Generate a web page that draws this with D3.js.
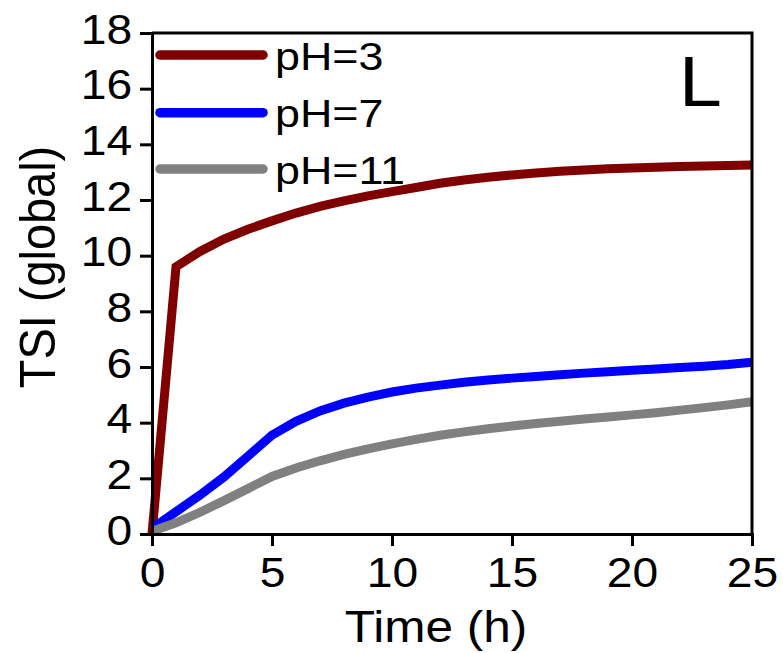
<!DOCTYPE html>
<html>
<head>
<meta charset="utf-8">
<script src="https://cdn.jsdelivr.net/npm/d3@7"></script>
<style>
  html, body { margin: 0; padding: 0; background: #ffffff; }
  svg { display: block; font-family: "Liberation Sans", Arial, sans-serif; }
</style>
</head>
<body>
<svg id="chart" width="783" height="653"></svg>
<script>
// Time points (h)
const hours = [0, 1, 2, 3, 4, 5, 6, 7, 8, 9, 10, 11, 12, 13, 14, 15, 16, 17, 18, 19, 20, 21, 22, 23, 24, 25];

// TSI (global) for each pH
const tsiPH3  = [0, 9.6, 10.15, 10.6, 10.95, 11.25, 11.53, 11.77, 11.97, 12.15, 12.3, 12.45, 12.6, 12.72, 12.82, 12.9, 12.97, 13.03, 13.08, 13.12, 13.15, 13.18, 13.2, 13.22, 13.24, 13.26];
const tsiPH7  = [0.2, 0.8, 1.4, 2.05, 2.8, 3.55, 4.05, 4.42, 4.7, 4.92, 5.1, 5.24, 5.35, 5.45, 5.53, 5.6, 5.66, 5.72, 5.78, 5.83, 5.88, 5.93, 5.98, 6.03, 6.09, 6.17];
const tsiPH11 = [0.1, 0.4, 0.78, 1.2, 1.63, 2.07, 2.37, 2.63, 2.86, 3.06, 3.24, 3.4, 3.55, 3.67, 3.78, 3.88, 3.97, 4.05, 4.13, 4.2, 4.28, 4.36, 4.45, 4.54, 4.64, 4.75];

const seriesNames  = ["pH=3", "pH=7", "pH=11"];
const seriesColors = ["#800000", "#0000ff", "#808080"];

const xMajorTicks = [0, 5, 10, 15, 20, 25];
const xMinorTicks = [2.5, 7.5, 12.5, 17.5, 22.5];
const yMajorTicks = [0, 2, 4, 6, 8, 10, 12, 14, 16, 18];
const yMinorTicks = [1, 3, 5, 7, 9, 11, 13, 15, 17];

const svg = d3.select("#chart");
const plotL = 152, plotR = 752, plotT = 33, plotB = 534;
const SX = "scale(1.1,1)"; // slightly wide lettering

const x = d3.scaleLinear().domain([0, 25]).range([plotL, plotR]);
const y = d3.scaleLinear().domain([0, 18]).range([plotB, plotT]);

// curves
const line = d3.line().x(d => x(d[0])).y(d => y(d[1]));
const allSeries = [tsiPH3, tsiPH7, tsiPH11];
allSeries.forEach((vals, i) => {
  svg.append("path")
    .datum(hours.map((h, k) => [h, vals[k]]))
    .attr("d", line)
    .attr("fill", "none")
    .attr("stroke", seriesColors[i])
    .attr("stroke-width", 9)
    .attr("stroke-linejoin", "miter")
    .attr("stroke-linecap", "butt");
});

// frame (top and right)
svg.append("path")
  .attr("d", `M${plotL},${plotT}H${plotR}V${plotB}`)
  .attr("fill", "none").attr("stroke", "#000").attr("stroke-width", 3)
  .attr("stroke-linejoin", "miter");

// x axis
const gx = svg.append("g").attr("transform", `translate(0,${plotB})`);
gx.call(d3.axisBottom(x).tickValues(xMinorTicks).tickSize(7).tickFormat(""));
gx.call(d3.axisBottom(x).tickValues(xMajorTicks).tickSize(12).tickPadding(11).tickFormat(d3.format("d")));

// y axis
const gy = svg.append("g").attr("transform", `translate(${plotL},0)`);
gy.call(d3.axisLeft(y).tickValues(yMinorTicks).tickSize(7).tickFormat(""));
gy.call(d3.axisLeft(y).tickValues(yMajorTicks).tickSize(12).tickPadding(6).tickFormat(d3.format("d")));

[gx, gy].forEach(g => {
  g.selectAll(".domain").attr("stroke", "#000").attr("stroke-width", 3);
  g.selectAll(".tick line").attr("stroke", "#000").attr("stroke-width", 3);
  g.selectAll(".tick text")
    .attr("fill", "#000")
    .style("font-size", "42px")
    .attr("transform", SX);
  g.attr("font-family", null).attr("font-size", null);
});
gy.selectAll(".tick text").attr("dy", "0.24em");

// axis titles
svg.append("text")
  .attr("transform", `translate(436,642) ${SX}`)
  .attr("text-anchor", "middle")
  .style("font-size", "45px")
  .text("Time (h)");

svg.append("text")
  .attr("transform", `translate(55,267) rotate(-90) scale(1.02,1.1)`)
  .attr("text-anchor", "middle")
  .style("font-size", "46px")
  .text("TSI (global)");

// legend
const legendY = [55, 112.7, 169];
seriesNames.forEach((name, i) => {
  svg.append("line")
    .attr("x1", 160).attr("x2", 263)
    .attr("y1", legendY[i]).attr("y2", legendY[i])
    .attr("stroke", seriesColors[i])
    .attr("stroke-width", 9.5)
    .attr("stroke-linecap", "round");
  svg.append("text")
    .attr("transform", `translate(275,${legendY[i] + 14.5}) scale(1.15,1)`)
    .style("font-size", "39px")
    .text(name);
});

// panel letter
svg.append("text")
  .attr("transform", `translate(679,106) ${SX}`)
  .style("font-size", "70px")
  .text("L");
</script>
</body>
</html>
